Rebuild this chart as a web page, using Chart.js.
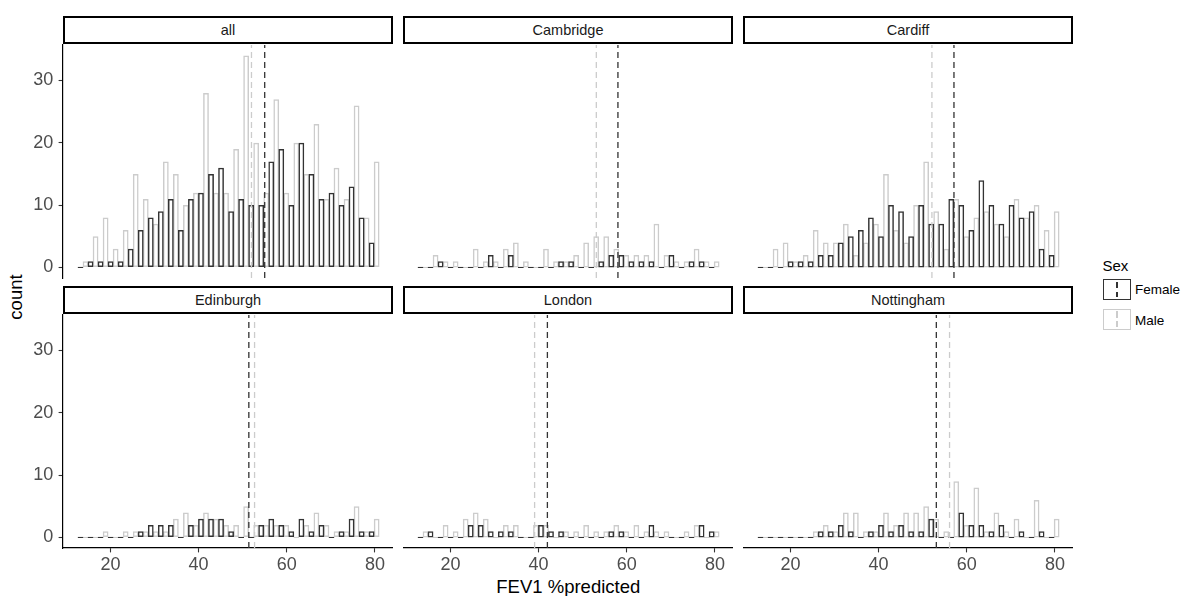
<!DOCTYPE html>
<html><head><meta charset="utf-8">
<script src="https://cdn.jsdelivr.net/npm/chart.js@4.4.1/dist/chart.umd.min.js"></script>
<style>
body{margin:0;background:#fff;width:1184px;height:596px;overflow:hidden;position:relative;font-family:"Liberation Sans",Arial,sans-serif;}
canvas{position:absolute;}
.strip{position:absolute;box-sizing:border-box;border:2px solid #000;background:#fff;height:28px;display:flex;align-items:center;justify-content:center;font-size:14.5px;color:#1a1a1a;}
.txt{position:absolute;white-space:nowrap;line-height:1;}
.key{position:absolute;box-sizing:border-box;background:#fff;}
.dash{position:absolute;width:1.4px;}
</style></head>
<body>
<div class="txt" id="ytitle" style="left:15.5px;top:296.5px;font-size:18.5px;color:#000;transform:translate(-50%,-50%) rotate(-90deg);">count</div>
<div class="txt" style="left:568.3px;top:577.6px;font-size:18.5px;color:#000;transform:translateX(-50%);">FEV1 %predicted</div>
<div class="txt" style="left:1102.5px;top:258px;font-size:15px;color:#000;">Sex</div>
<div class="key" style="left:1103px;top:279px;width:28px;height:21px;border:1.5px solid #333;"></div>
<div class="dash" style="left:1116.3px;top:281.5px;height:6.5px;background:#333;"></div>
<div class="dash" style="left:1116.3px;top:291.5px;height:5.5px;background:#333;"></div>
<div class="key" style="left:1103px;top:309px;width:28px;height:20.5px;border:1.5px solid #ccc;"></div>
<div class="dash" style="left:1116.3px;top:311px;height:6.5px;background:#ccc;"></div>
<div class="dash" style="left:1116.3px;top:321px;height:5.5px;background:#ccc;"></div>
<div class="txt" style="left:1135px;top:283.4px;font-size:13.5px;color:#000;">Female</div>
<div class="txt" style="left:1135px;top:314.1px;font-size:13.5px;color:#000;">Male</div>
<script>
// ---- data ----
const binCenters = [13.789,16.066,18.343,20.620,22.897,25.174,27.451,29.728,32.005,34.282,
  36.559,38.836,41.113,43.390,45.667,47.944,50.221,52.498,54.775,57.052,
  59.329,61.606,63.883,66.160,68.437,70.714,72.991,75.268,77.545,79.822];
const binWidth = 2.277;
const xTickLabels = [20, 40, 60, 80];
const yTickLabels = [0, 10, 20, 30];
const xLimits = [9.25, 84.1];
const yLimits = [-1.7, 35.7];
const centres = ['all', 'Cambridge', 'Cardiff', 'Edinburgh', 'London', 'Nottingham'];

const femaleAll        = [0,1,1,1,1,3,6,8,9,11,6,11,12,15,16,9,11,10,10,17,19,10,20,15,11,12,10,13,8,4];
const maleAll          = [1,5,8,3,6,15,11,7,17,15,10,12,28,12,12,19,34,20,12,27,12,20,15,23,11,16,11,26,8,17];
const femaleCambridge  = [0,0,1,0,0,0,0,2,0,2,0,0,0,0,1,1,0,0,1,2,2,1,1,1,0,2,0,1,1,0];
const maleCambridge    = [0,2,1,1,0,3,1,1,3,4,1,0,3,1,1,2,4,5,5,3,2,2,2,7,2,1,1,3,1,1];
const femaleCardiff    = [0,0,0,1,1,1,2,2,4,5,6,8,5,10,9,5,10,7,7,11,10,6,14,10,7,10,8,9,3,2];
const maleCardiff      = [0,3,4,1,2,6,4,4,7,2,4,7,15,6,4,10,17,9,3,11,5,8,9,7,5,11,8,10,6,9];
const femaleEdinburgh  = [0,0,0,0,0,0,1,2,2,2,0,2,3,3,3,1,0,0,2,3,2,1,3,1,2,0,1,3,1,1];
const maleEdinburgh    = [0,0,1,0,1,1,1,1,1,3,4,2,4,3,2,2,5,2,2,2,2,0,2,4,2,1,1,5,1,3];
const femaleLondon     = [0,1,0,0,0,2,2,1,1,1,0,0,2,1,1,0,0,0,0,1,1,0,0,2,0,0,0,0,2,1];
const maleLondon       = [1,0,2,1,3,4,3,0,2,2,0,2,2,0,1,1,2,1,1,2,1,2,1,1,1,0,1,2,0,1];
const femaleNottingham = [0,0,0,0,0,0,1,1,2,1,0,1,2,1,2,1,1,3,0,0,4,2,2,1,2,0,1,0,1,0];
const maleNottingham   = [0,0,0,0,0,1,2,1,4,4,1,1,4,2,4,4,5,3,1,9,2,8,1,4,1,3,0,6,0,3];

const femaleMean = [55.0, 58.0, 57.1, 51.4, 42.0, 53.1];
const maleMean   = [52.0, 53.1, 52.1, 52.7, 39.1, 56.1];

const femaleCounts = [femaleAll, femaleCambridge, femaleCardiff, femaleEdinburgh, femaleLondon, femaleNottingham];
const maleCounts   = [maleAll, maleCambridge, maleCardiff, maleEdinburgh, maleLondon, maleNottingham];

// ---- style / layout ----
const FEMALE_COL = '#333333', MALE_COL = '#cccccc';
const FONT = '"Liberation Sans", Arial, sans-serif';
const PANEL_W = 330, PANEL_H = 233, Y_AXIS_W = 38, X_AXIS_H = 27, PAD = 20;
const colLeft = [63, 403, 743], rowTop = [45, 315];

centres.forEach((name, i) => {
  const r = Math.floor(i / 3), c = i % 3;
  const showY = c === 0, showX = r === 1;
  const w = PANEL_W + (showY ? Y_AXIS_W : 0);
  const h = PAD + PANEL_H + (showX ? X_AXIS_H : PAD);

  const strip = document.createElement('div');
  strip.className = 'strip';
  strip.textContent = name;
  strip.style.left = colLeft[c] + 'px';
  strip.style.top = (rowTop[r] - 29) + 'px';
  strip.style.width = PANEL_W + 'px';
  document.body.appendChild(strip);

  const cv = document.createElement('canvas');
  cv.width = w; cv.height = h;
  cv.style.left = (colLeft[c] - (showY ? Y_AXIS_W : 0)) + 'px';
  cv.style.top = (rowTop[r] - PAD) + 'px';
  cv.style.width = w + 'px'; cv.style.height = h + 'px';
  document.body.appendChild(cv);

  const vline = (m, col) => ({
    type: 'line', order: 0,
    data: [{x: m, y: yLimits[0]}, {x: m, y: yLimits[1]}],
    borderColor: col, borderWidth: 1.3, borderDash: [6, 4], pointRadius: 0, fill: false
  });

  new Chart(cv, {
    type: 'bar',
    data: {
      datasets: [
        vline(femaleMean[i], FEMALE_COL),
        vline(maleMean[i], MALE_COL),
        { label: 'Female', order: 1, borderColor: FEMALE_COL,
          data: binCenters.map((b, k) => ({x: b - binWidth / 4, y: femaleCounts[i][k]})) },
        { label: 'Male', order: 2, borderColor: MALE_COL,
          data: binCenters.map((b, k) => ({x: b + binWidth / 4, y: maleCounts[i][k]})) }
      ]
    },
    options: {
      responsive: false, animation: false, devicePixelRatio: 1,
      layout: { padding: { top: PAD, bottom: showX ? 0 : PAD, left: 0, right: 0 } },
      plugins: { legend: { display: false }, tooltip: { enabled: false } },
      datasets: { bar: { grouped: false, categoryPercentage: 1, barPercentage: 1.15,
        borderSkipped: false, borderWidth: 1.5, backgroundColor: 'rgba(0,0,0,0)', minBarLength: 1.4 } },
      scales: {
        x: {
          type: 'linear', min: xLimits[0], max: xLimits[1], offset: false, display: showX,
          afterFit: s => { if (showX) s.height = X_AXIS_H; },
          afterBuildTicks: s => { s.ticks = xTickLabels.map(v => ({value: v})); },
          grid: { display: true, drawOnChartArea: false, offset: false, tickLength: 4.4, tickColor: '#333', tickWidth: 1.1 },
          border: { display: true, color: '#000', width: 1.2 },
          ticks: { color: '#4d4d4d', font: { size: 18, family: FONT }, padding: 1.5, maxRotation: 0, autoSkip: false }
        },
        y: {
          type: 'linear', min: yLimits[0], max: yLimits[1], display: showY,
          afterFit: s => { if (showY) s.width = Y_AXIS_W; },
          afterBuildTicks: s => { s.ticks = yTickLabels.map(v => ({value: v})); },
          grid: { display: true, drawOnChartArea: false, tickLength: 4.4, tickColor: '#333', tickWidth: 1.1 },
          border: { display: true, color: '#000', width: 1.2 },
          ticks: { color: '#4d4d4d', font: { size: 18, family: FONT }, padding: 5.3 }
        }
      }
    }
  });
});
</script>
</body></html>
